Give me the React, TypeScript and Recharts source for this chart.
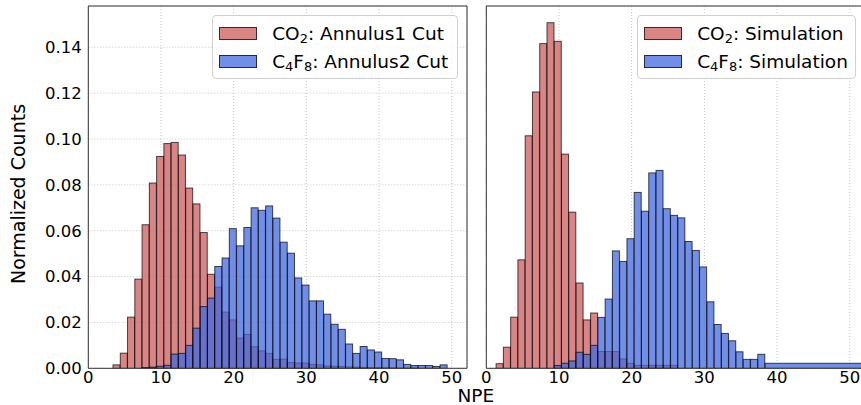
import React from "react";
import {
  BarChart,
  Bar,
  XAxis,
  YAxis,
  CartesianGrid,
  ReferenceArea,
  Legend,
} from "recharts";

// bin centres (NPE) and normalized counts
const CUT_NPE = [
  3.9, 4.9, 5.9, 6.9, 7.9, 8.9, 9.9, 10.9, 11.9, 12.9, 13.9, 14.9, 15.9, 16.9,
  17.9, 18.9, 19.9, 20.9, 21.9, 22.9, 23.9, 24.9, 25.9, 26.9, 27.9, 28.9, 29.9,
  30.9, 31.9, 32.9, 33.9, 34.9, 35.9, 36.9, 37.9, 38.9, 39.9, 40.9, 41.9, 42.9,
  43.9, 44.9, 45.9, 46.9, 47.9, 48.9,
];
const CO2_CUT = [
  0.0015, 0.0066, 0.0223, 0.0389, 0.0626, 0.0808, 0.0924, 0.098, 0.0985, 0.093,
  0.0786, 0.0717, 0.0592, 0.041, 0.0354, 0.0245, 0.0211, 0.0132, 0.0148, 0.0094,
  0.0076, 0.0065, 0.0039, 0.004, 0.0025, 0.0023, 0.0023, 0.0017, 0.0015, 0.001,
  0.0009, 0.0008, 0.0006, 0.0005, 0.0004, 0.0003, 0.0003, 0.0002, 0.0002,
  0.0001, 0.0001, 0.0001, 0, 0, 0, 0,
];
const C4F8_CUT = [
  0, 0, 0, 0, 0.0003, 0.0005, 0.0009, 0.0013, 0.0062, 0.0065, 0.01, 0.0175,
  0.0269, 0.0306, 0.0444, 0.0481, 0.0609, 0.0534, 0.0614, 0.07, 0.0689, 0.0708,
  0.0655, 0.055, 0.0502, 0.0394, 0.0363, 0.0294, 0.0294, 0.0236, 0.0192, 0.017,
  0.0106, 0.0065, 0.0095, 0.008, 0.0071, 0.0043, 0.0042, 0.0037, 0.0017,
  0.0012, 0.0012, 0.0012, 0.0008, 0.0015,
];

const SIM_NPE = [
  1.85, 2.85, 3.85, 4.85, 5.85, 6.85, 7.85, 8.85, 9.85, 10.85, 11.85, 12.85,
  13.85, 14.85, 15.85, 16.85, 17.85, 18.85, 19.85, 20.85, 21.85, 22.85, 23.85,
  24.85, 25.85, 26.85, 27.85, 28.85, 29.85, 30.85, 31.85, 32.85, 33.85, 34.85,
  35.85, 36.85, 37.85, 38.85,
];
const CO2_SIM = [
  0.002, 0.0092, 0.0223, 0.0473, 0.1014, 0.1205, 0.1416, 0.1507, 0.1426,
  0.0934, 0.0681, 0.0372, 0.0211, 0.0241, 0.0073, 0.0073, 0.0073, 0.0041,
  0.0022, 0.0013, 0.0013, 0.0013, 0.0013, 0.0013, 0.0013, 0, 0, 0, 0, 0, 0, 0,
  0, 0, 0, 0, 0, 0,
];
const C4F8_SIM = [
  0, 0, 0, 0, 0, 0, 0, 0, 0.0012, 0.0022, 0.0032, 0.007, 0.0061, 0.01, 0.0222,
  0.0302, 0.0512, 0.0466, 0.0565, 0.0767, 0.0685, 0.0852, 0.0863, 0.0696,
  0.0667, 0.0656, 0.0553, 0.0514, 0.0442, 0.029, 0.0191, 0.0152, 0.012, 0.0072,
  0.0039, 0.0039, 0.0061, 0.0022,
];
// the last simulation bin is a wide overflow bin (in bin widths)
const SIM_TAIL_SPAN = 14;

const X_TICKS = [0, 10, 20, 30, 40, 50];
const Y_TICKS = [0, 0.02, 0.04, 0.06, 0.08, 0.1, 0.12, 0.14];
const X_MAX = 52.1;
const Y_MAX = 0.158;

const RED = "rgba(205, 92, 92, 0.75)";
const BLUE = "rgba(65, 105, 225, 0.75)";
const EDGE = "rgba(0, 0, 0, 0.7)";
const FONT = "DejaVu Sans, sans-serif";

const cutRows = CUT_NPE.map((npe, i) => ({
  npe,
  co2: CO2_CUT[i],
  c4f8: C4F8_CUT[i],
  span: 1,
}));
const simRows = SIM_NPE.map((npe, i) => ({
  npe,
  co2: CO2_SIM[i],
  c4f8: C4F8_SIM[i],
  span: i === SIM_NPE.length - 1 ? SIM_TAIL_SPAN : 1,
}));

function HistBar(props: any) {
  const { x, y, width, height, fill, payload } = props;
  if (!height || height <= 0) return <g />;
  return (
    <rect
      x={x}
      y={y}
      width={width * (payload?.span ?? 1)}
      height={height}
      fill={fill}
      stroke={EDGE}
      strokeWidth={1}
    />
  );
}

function Gas({ base, sub }: { base: string[]; sub: string[] }) {
  return (
    <span>
      {base.map((b, i) => (
        <React.Fragment key={i}>
          {b}
          <sub style={{ fontSize: "70%", verticalAlign: "-0.25em", lineHeight: 0 }}>
            {sub[i]}
          </sub>
        </React.Fragment>
      ))}
    </span>
  );
}

function LegendBox({ labels, width }: { labels: string[]; width: number }) {
  const items = [
    { gas: <Gas base={["CO"]} sub={["2"]} />, color: RED, label: labels[0] },
    { gas: <Gas base={["C", "F"]} sub={["4", "8"]} />, color: BLUE, label: labels[1] },
  ];
  return (
    <div
      style={{
        width,
        height: 64,
        boxSizing: "border-box",
        border: "1px solid #d0d0d0",
        borderRadius: 4,
        background: "rgba(255,255,255,0.8)",
        paddingTop: 3,
        fontFamily: FONT,
        fontSize: 18.5,
        color: "#000",
      }}
    >
      {items.map((it) => (
        <div
          key={it.label + it.color}
          style={{ display: "flex", alignItems: "center", height: 28.3 }}
        >
          <div
            style={{
              marginLeft: 6.6,
              width: 37.4,
              height: 13.3,
              boxSizing: "border-box",
              background: it.color,
              border: `1px solid ${EDGE}`,
            }}
          />
          <span style={{ marginLeft: 15.5, whiteSpace: "nowrap" }}>
            {it.gas}: {it.label}
          </span>
        </div>
      ))}
    </div>
  );
}

interface PanelProps {
  rows: Array<{ npe: number; co2: number; c4f8: number; span: number }>;
  width: number;
  axisWidth: number;
  marginRight: number;
  showYTicks: boolean;
  labels: string[];
  legendLeft: number;
  legendWidth: number;
}

function Panel({
  rows,
  width,
  axisWidth,
  marginRight,
  showYTicks,
  labels,
  legendLeft,
  legendWidth,
}: PanelProps) {
  const tickStyle = { fill: "#000", fontSize: 16.5, fontFamily: FONT };
  return (
    <BarChart
      width={width}
      height={405}
      data={rows}
      margin={{ top: 6, right: marginRight, bottom: 0, left: 0 }}
      barCategoryGap={0}
      barGap={0}
    >
      <CartesianGrid
        xAxisId="a"
        stroke="#b8b8b8"
        strokeDasharray="1 2"
        strokeWidth={0.8}
      />
      <XAxis
        xAxisId="a"
        type="number"
        dataKey="npe"
        domain={[0, X_MAX]}
        ticks={X_TICKS}
        interval={0}
        allowDataOverflow
        height={36.7}
        axisLine={false}
        tickLine={false}
        tickSize={0}
        tickMargin={3}
        tick={tickStyle}
      />
      <XAxis
        xAxisId="b"
        type="number"
        dataKey="npe"
        domain={[0, X_MAX]}
        allowDataOverflow
        hide
      />
      <YAxis
        type="number"
        domain={[0, Y_MAX]}
        ticks={Y_TICKS}
        interval={0}
        allowDataOverflow
        width={axisWidth}
        axisLine={false}
        tickLine={false}
        tickSize={0}
        tickMargin={6.5}
        tick={showYTicks ? tickStyle : false}
        tickFormatter={(v: number) => v.toFixed(2)}
      />
      <Bar
        xAxisId="a"
        dataKey="co2"
        fill={RED}
        shape={HistBar}
        isAnimationActive={false}
      />
      <Bar
        xAxisId="b"
        dataKey="c4f8"
        fill={BLUE}
        shape={HistBar}
        isAnimationActive={false}
      />
      <ReferenceArea
        xAxisId="a"
        x1={0}
        x2={X_MAX}
        y1={0}
        y2={Y_MAX}
        fill="none"
        stroke="#333"
        strokeWidth={1}
        ifOverflow="visible"
      />
      <Legend
        layout="horizontal"
        align="center"
        verticalAlign="middle"
        wrapperStyle={{ left: legendLeft, top: 15, width: legendWidth, height: 64 }}
        content={() => <LegendBox labels={labels} width={legendWidth} />}
      />
    </BarChart>
  );
}

export default function App() {
  return (
    <div
      style={{
        position: "absolute",
        left: 0,
        top: 0,
        width: 861,
        height: 405,
        overflow: "hidden",
        background: "#fff",
      }}
    >
      <div style={{ position: "absolute", left: 0, top: 0 }}>
        <Panel
          rows={cutRows}
          width={480}
          axisWidth={88.3}
          marginRight={13}
          showYTicks
          labels={["Annulus1 Cut", "Annulus2 Cut"]}
          legendLeft={211.7}
          legendWidth={246}
        />
      </div>
      <div style={{ position: "absolute", left: 440, top: 0 }}>
        <Panel
          rows={simRows}
          width={430}
          axisWidth={46.3}
          marginRight={5}
          showYTicks={false}
          labels={["Simulation", "Simulation"]}
          legendLeft={196.7}
          legendWidth={219}
        />
      </div>
      <div
        style={{
          position: "absolute",
          left: 17.5,
          top: 194,
          transform: "translate(-50%, -50%) rotate(-90deg)",
          whiteSpace: "nowrap",
          fontFamily: FONT,
          fontSize: 19,
          lineHeight: 1,
          color: "#000",
        }}
      >
        Normalized Counts
      </div>
      <div
        style={{
          position: "absolute",
          left: 475.8,
          top: 395.5,
          transform: "translate(-50%, -50%)",
          whiteSpace: "nowrap",
          fontFamily: FONT,
          fontSize: 18.5,
          lineHeight: 1,
          color: "#000",
        }}
      >
        NPE
      </div>
    </div>
  );
}
